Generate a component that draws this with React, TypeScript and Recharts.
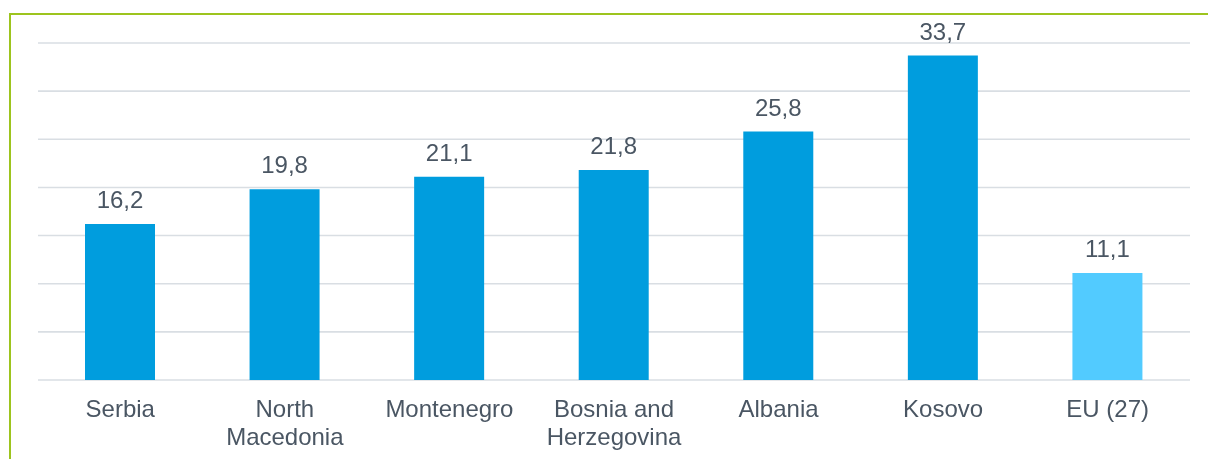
import React from "react";
import { BarChart, Bar, XAxis, YAxis, CartesianGrid, LabelList, Cell } from "recharts";

const countries = ["Serbia", "North Macedonia", "Montenegro", "Bosnia and Herzegovina", "Albania", "Kosovo", "EU (27)"];
const rates = [16.2, 19.8, 21.1, 21.8, 25.8, 33.7, 11.1];
const tickLabels = [
  ["Serbia"],
  ["North", "Macedonia"],
  ["Montenegro"],
  ["Bosnia and", "Herzegovina"],
  ["Albania"],
  ["Kosovo"],
  ["EU (27)"],
];
const yTicks = [0, 5, 10, 15, 20, 25, 30, 35];

const chartData = countries.map((name, i) => ({ name, value: rates[i] }));

const FONT = "'Liberation Sans', Arial, sans-serif";
const TEXT = "#4A5663";

function CountryTick(props: any) {
  const { x, y, index } = props;
  const lines = tickLabels[index] || [];
  return (
    <text x={x} y={y} textAnchor="middle" fill={TEXT} fontSize={24} fontFamily={FONT}>
      {lines.map((line, i) => (
        <tspan key={i} x={x} dy={i === 0 ? 37 : 28}>
          {line}
        </tspan>
      ))}
    </text>
  );
}

export default function App() {
  return (
    <div style={{ position: "fixed", left: 0, top: 0, width: 1208, height: 459, overflow: "hidden" }}>
      <div
        style={{
          position: "absolute",
          left: 9,
          top: 13,
          right: 0,
          bottom: 0,
          borderTop: "2px solid #9DC41E",
          borderLeft: "2px solid #9DC41E",
        }}
      />
      <div style={{ position: "absolute", left: 8, top: 8 }}>
        <BarChart width={1200} height={451} data={chartData} margin={{ top: 35, right: 18, left: 30, bottom: 0 }}>
          <CartesianGrid vertical={false} stroke="#D9DEE3" strokeWidth={1.6} />
          <XAxis
            dataKey="name"
            height={79}
            axisLine={false}
            tickLine={false}
            tickSize={0}
            tickMargin={0}
            interval={0}
            tick={<CountryTick />}
          />
          <YAxis hide domain={[0, 35]} ticks={yTicks} />
          <Bar dataKey="value" barSize={70} isAnimationActive={false}>
            {chartData.map((d) => (
              <Cell key={d.name} fill={d.name === "EU (27)" ? "#52CBFF" : "#009DDE"} />
            ))}
            <LabelList
              dataKey="value"
              position="top"
              offset={16}
              fill={TEXT}
              fontSize={24}
              fontFamily={FONT}
              formatter={(v: any) => String(v).replace(".", ",")}
            />
          </Bar>
        </BarChart>
      </div>
    </div>
  );
}
